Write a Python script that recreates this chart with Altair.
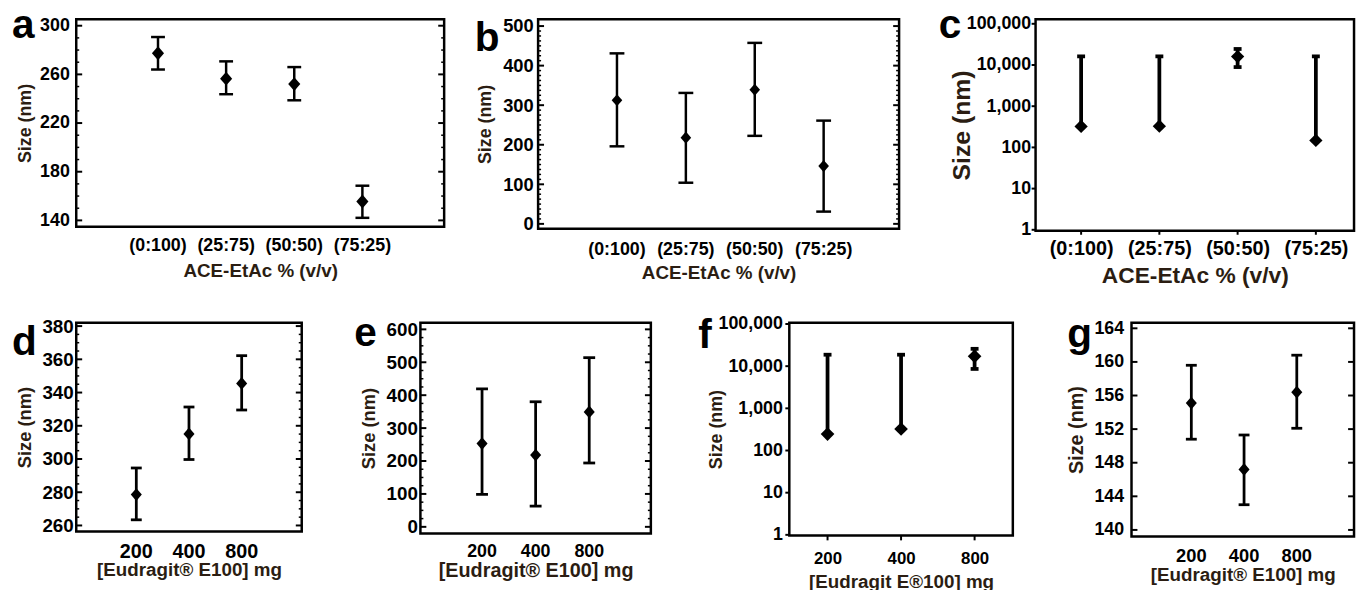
import altair as alt
import pandas as pd

FONT = "Liberation Sans"
LABEL_COLOR = "#000000"
TITLE_COLOR = "#2b1d12"

# ---------------- data ----------------
ACE_CATS = ["(0:100)", "(25:75)", "(50:50)", "(75:25)"]
EUD_CATS = ["200", "400", "800"]

A_MEAN = [277.3, 256.5, 252.0, 155.5]
A_LO = [264.0, 243.7, 238.7, 142.1]
A_HI = [290.7, 270.7, 266.0, 168.5]

B_MEAN = [312.5, 218.0, 339.0, 146.0]
B_LO = [196.0, 104.0, 222.5, 31.0]
B_HI = [431.0, 331.0, 457.5, 261.0]

C_MEAN = [323.0, 328.0, 16000.0, 148.0]
C_LO = [323.0, 328.0, 8900.0, 148.0]
C_HI = [16200.0, 16200.0, 24500.0, 16200.0]

D_MEAN = [278.6, 315.1, 345.5]
D_LO = [263.4, 299.7, 329.5]
D_HI = [294.6, 331.3, 362.2]

E_MEAN = [253.0, 218.0, 349.0]
E_LO = [98.5, 63.0, 194.0]
E_HI = [419.0, 380.0, 514.0]

F_MEAN = [245.0, 324.0, 17100.0]
F_LO = [245.0, 324.0, 8600.0]
F_HI = [18700.0, 18700.0, 25800.0]

G_MEAN = [155.1, 147.2, 156.4]
G_LO = [150.8, 143.0, 152.1]
G_HI = [159.6, 151.3, 160.8]

A_TICKS = [140, 180, 220, 260, 300]
B_TICKS = [0, 100, 200, 300, 400, 500]
LOG_TICKS = [1, 10, 100, 1000, 10000, 100000]
D_TICKS = [260, 280, 300, 320, 340, 360, 380]
E_TICKS = [0, 100, 200, 300, 400, 500, 600]
G_TICKS = [140, 144, 148, 152, 156, 160, 164]

A_MINOR = [v for v in range(140, 301, 10) if v not in A_TICKS]
B_MINOR = [v * 12.5 for v in range(0, 41) if v % 8 != 0]
D_MINOR = [v for v in range(260, 381, 5) if v not in D_TICKS]
E_MINOR = [v for v in range(0, 601, 25) if v not in E_TICKS]

TALL = "M0,-1.15L1,0L0,1.15L-1,0Z"
SQUARE = "M0,-1L1,0L0,1L-1,0Z"


def panel(letter, cats, mean, lo, hi, p):
    W, H = p["W"], p["H"]
    df = pd.DataFrame({"cat": cats, "mean": mean, "lo": lo, "hi": hi})
    log = p.get("log", False)
    if log:
        yscale = alt.Scale(type="log", domain=p["ydom"], nice=False)
        fmt = ",d"
    else:
        yscale = alt.Scale(domain=p["ydom"], nice=False, zero=False)
        fmt = "d"

    xaxis = alt.Axis(
        labelAngle=0, domain=False, grid=False, ticks=False, tickSize=0,
        labelFont=FONT, labelFontSize=p["xf"], labelFontWeight="bold",
        labelColor=LABEL_COLOR, labelPadding=p["xlp"],
        title=p["xtitle"], titleFont=FONT, titleFontSize=p["xtf"],
        titleFontWeight="bold", titleColor=TITLE_COLOR, titlePadding=0,
        minExtent=p["xs"], maxExtent=p["xs"],
    )
    if "po" in p:
        xscale = alt.Scale(type="band", paddingInner=0, paddingOuter=p["po"],
                           align=p.get("xalign", 0.5))
    else:
        xscale = alt.Scale(type="point", padding=p["xpad"], align=p.get("xalign", 0.5))
    x = alt.X("cat:N", sort=cats, scale=xscale, axis=xaxis)

    left_axis = alt.Axis(
        orient="left", values=p["ticks"], format=fmt,
        ticks=False, tickSize=0, domain=False, grid=False,
        labelFont=FONT, labelFontSize=p["yf"], labelFontWeight="bold",
        labelColor=LABEL_COLOR, labelPadding=p["ylp"],
        title=p["ytitle"], titleFont=FONT, titleFontSize=p["ytf"],
        titleFontWeight="bold", titleColor=TITLE_COLOR, titlePadding=p["ytp"],
        minExtent=p["ys"], maxExtent=p["ys"],
    )
    rs = p.get("rs", 0)
    if rs:
        raxis = alt.Axis(orient="right", labels=False, ticks=False, domain=False,
                         grid=False, title=None, minExtent=rs, maxExtent=rs)
    else:
        raxis = None

    base = alt.Chart(df)
    sw = p["sw"]
    layers = []
    layers.append(base.mark_rule(color="black", strokeWidth=sw).encode(
        x=x, y=alt.Y("lo:Q", scale=yscale, axis=left_axis), y2="hi:Q"))
    for col in ["lo", "hi"]:
        layers.append(base.mark_tick(orient="horizontal", color="black", size=p["cap"],
                                     thickness=sw, opacity=1).encode(
            x=x, y=alt.Y(col + ":Q", scale=yscale, axis=None)))

    # axis tick marks drawn from the tick value lists
    inward = p.get("inward", True)
    major = alt.Chart(pd.DataFrame({"v": p["ticks"]}))
    if inward:
        for x0, x1 in [(0, 6), (W - 6, W)]:
            layers.append(major.mark_rule(color="black", strokeWidth=2).encode(
                y=alt.Y("v:Q", scale=yscale, axis=None),
                x=alt.value(x0), x2=alt.value(x1)))
        minor = p.get("minor")
        if minor:
            mchart = alt.Chart(pd.DataFrame({"v": minor}))
            for x0, x1 in [(0, 3), (W - 3, W)]:
                layers.append(mchart.mark_rule(color="black", strokeWidth=1.5).encode(
                    y=alt.Y("v:Q", scale=yscale, axis=None),
                    x=alt.value(x0), x2=alt.value(x1)))
    else:
        layers.append(major.mark_rule(color="black", strokeWidth=2).encode(
            y=alt.Y("v:Q", scale=yscale, axis=None),
            x=alt.value(-4), x2=alt.value(0)))
        layers.append(base.mark_rule(color="black", strokeWidth=2).encode(
            x=x, y=alt.value(H), y2=alt.value(H + p.get("xtick", 4))))

    layers.append(base.mark_point(shape=p["shape"], filled=True, size=p["msize"],
                                  color="black", opacity=1).encode(
        x=x, y=alt.Y("mean:Q", scale=yscale, axis=raxis)))
    layers.append(alt.Chart(pd.DataFrame({"t": [letter]})).mark_text(
        align="left", baseline="alphabetic", font=FONT, fontSize=41,
        fontWeight="bold", color="black").encode(
        text="t:N", x=alt.value(-p["L"]), y=alt.value(p["by"])))
    return (alt.layer(*layers)
            .resolve_axis(y="independent")
            .properties(width=W, height=H))


ACE = "ACE-EtAc % (v/v)"
EUD = "[Eudragit® E100] mg"
SIZE = "Size (nm)"

pa = panel("a", ACE_CATS, A_MEAN, A_LO, A_HI, dict(
    W=372, H=210, ydom=[134.7, 305.4], ticks=A_TICKS, minor=A_MINOR,
    po=0.7, xf=18, xlp=9.9, xs=35.5, xtf=19, xtitle=ACE,
    yf=18, ylp=7, ys=38, ytp=4, ytf=18, ytitle=SIZE,
    sw=2.5, cap=14, shape=TALL, msize=150, L=65, by=19))
pb = panel("b", ACE_CATS, B_MEAN, B_LO, B_HI, dict(
    W=365, H=212, ydom=[-12.5, 517.5], ticks=B_TICKS, minor=B_MINOR,
    po=0.62, xalign=0.52, xf=18, xlp=12.2, xs=35, xtf=19, xtitle=ACE,
    yf=18.5, ylp=5, ys=39, ytp=5, ytf=18, ytitle=SIZE, rs=10,
    sw=2.5, cap=15, shape=TALL, msize=115, L=64, by=32))
pc = panel("c", ACE_CATS, C_MEAN, C_LO, C_HI, dict(
    W=322, H=214, log=True, ydom=[0.946, 129700], ticks=LOG_TICKS,
    xpad=0.535, xalign=0.544, xtick=4, xf=20, xlp=7.5, xs=34.5, xtf=23, xtitle=ACE,
    inward=False, yf=18, ylp=5, ys=60, ytp=2, ytf=25, ytitle=SIZE,
    sw=3.8, cap=8, shape=SQUARE, msize=180, L=98, by=19))
pd_ = panel("d", EUD_CATS, D_MEAN, D_LO, D_HI, dict(
    W=228, H=211, ydom=[256.4, 382], ticks=D_TICKS, minor=D_MINOR,
    po=0.64, xf=20, xlp=9.9, xs=29.4, xtf=19, xtitle=EUD,
    yf=19, ylp=3, ys=38, ytp=4, ytf=18.5, ytitle=SIZE, rs=6,
    sw=2.8, cap=11, shape=TALL, msize=125, L=65, by=33))
pe = panel("e", EUD_CATS, E_MEAN, E_LO, E_HI, dict(
    W=233, H=213, ydom=[-20, 620], ticks=E_TICKS, minor=E_MINOR,
    po=0.65, xf=18, xlp=9.2, xs=27.7, xtf=20, xtitle=EUD,
    yf=19, ylp=3, ys=38, ytp=4, ytf=18.5, ytitle=SIZE,
    sw=2.8, cap=12, shape=TALL, msize=125, L=67, by=23))
pf = panel("f", EUD_CATS, F_MEAN, F_LO, F_HI, dict(
    W=226, H=215, log=True, ydom=[0.97, 107000], ticks=LOG_TICKS,
    xpad=0.52, xtick=5, xf=17, xlp=15.8, xs=37.5, xtf=19, xtitle="[Eudragit E®100] mg",
    inward=False, yf=18, ylp=7, ys=62, ytp=3, ytf=18, ytitle=SIZE, rs=7,
    sw=3.8, cap=8, shape=SQUARE, msize=190, L=92, by=26))
pg = panel("g", EUD_CATS, G_MEAN, G_LO, G_HI, dict(
    W=225, H=216, ydom=[139.23, 164.66], ticks=G_TICKS,
    po=0.61, xalign=0.52, xf=18.5, xlp=10.4, xs=29.4, xtf=19, xtitle=EUD,
    yf=18, ylp=8, ys=41, ytp=5, ytf=20, ytitle=SIZE,
    sw=2.8, cap=11, shape=TALL, msize=125, L=65, by=24))

row1 = alt.hconcat(pa, pb, pc, spacing=26)
row2 = alt.hconcat(pd_, pe, pf, pg, spacing=43)

chart = (alt.vconcat(row1, row2, spacing=22)
         .properties(padding={"left": 2, "top": -8, "right": 0, "bottom": 0},
                     background="white")
         .configure_view(stroke="black", strokeWidth=2.5))

chart.save("out.html", embed_options={"renderer": "svg", "actions": False})
